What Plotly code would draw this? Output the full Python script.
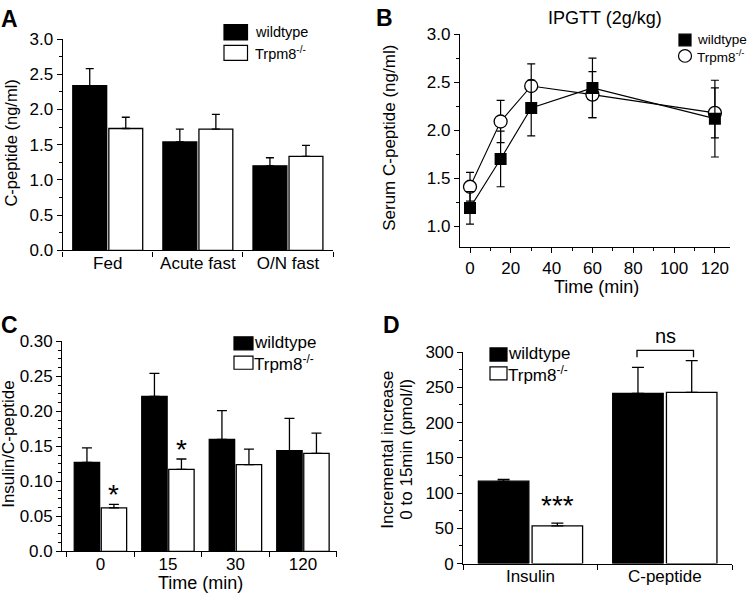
import plotly.graph_objects as go

FONT = "Liberation Sans, Arial, sans-serif"
W, H = 750, 602

# ---------------- data ----------------
# Panel A
a_cats = ["Fed", "Acute fast", "O/N fast"]
a_wt = [2.34, 1.54, 1.20]
a_wt_err = [0.24, 0.18, 0.115]
a_ko = [1.73, 1.72, 1.335]
a_ko_err = [0.16, 0.21, 0.155]
a_yticks = [0.0, 0.5, 1.0, 1.5, 2.0, 2.5, 3.0]

# Panel B
b_time = [0, 15, 30, 60, 120]
b_wt = [1.19, 1.70, 2.23, 2.44, 2.12]
b_wt_err = [0.17, 0.29, 0.29, 0.31, 0.40]
b_ko = [1.41, 2.09, 2.46, 2.37, 2.18]
b_ko_err = [0.15, 0.22, 0.23, 0.24, 0.26]
b_yticks = [1.0, 1.5, 2.0, 2.5, 3.0]
b_xticks = [0, 20, 40, 60, 80, 100, 120]

# Panel C
c_cats = ["0", "15", "30", "120"]
c_wt = [0.127, 0.2215, 0.160, 0.144]
c_wt_err = [0.021, 0.033, 0.041, 0.046]
c_ko = [0.062, 0.117, 0.124, 0.140]
c_ko_err = [0.005, 0.015, 0.022, 0.029]
c_yticks = [0.0, 0.05, 0.10, 0.15, 0.20, 0.25, 0.30]
c_yticktext = ["0.0", "0.05", "0.10", "0.15", "0.20", "0.25", "0.30"]
c_stars = ["*", "*", "", ""]

# Panel D
d_cats = ["Insulin", "C-peptide"]
d_wt = [117, 241.5]
d_wt_err = [2.5, 37]
d_ko = [53.5, 243]
d_ko_err = [4, 45]
d_yticks = [0, 50, 100, 150, 200, 250, 300]

KO_LABEL = "Trpm8<sup>-/-</sup>"


def xd(a, b):
    return [a / W, b / W]


def yd(top, bottom):
    return [1 - bottom / H, 1 - top / H]


fig = go.Figure()

LW = 1.3


def bars(x, y, err, fill, xa, ya, ew):
    fig.add_trace(go.Bar(
        x=x, y=y, xaxis=xa, yaxis=ya,
        marker=dict(color=fill, line=dict(color="black", width=LW)),
        error_y=dict(type="data", array=err, arrayminus=[0] * len(err), symmetric=False,
                     color="black", thickness=LW, width=ew),
        showlegend=False, hoverinfo="skip"))


# A
bars(a_cats, a_wt, a_wt_err, "black", "x", "y", 4)
bars(a_cats, a_ko, a_ko_err, "white", "x", "y", 4)
# C
bars(c_cats, c_wt, c_wt_err, "black", "x3", "y3", 5)
bars(c_cats, c_ko, c_ko_err, "white", "x3", "y3", 5)
# D
bars(d_cats, d_wt, d_wt_err, "black", "x4", "y4", 6)
bars(d_cats, d_ko, d_ko_err, "white", "x4", "y4", 6)

# B
fig.add_trace(go.Scatter(
    x=b_time, y=b_ko, xaxis="x2", yaxis="y2", mode="lines+markers",
    line=dict(color="black", width=1.1),
    marker=dict(symbol="circle", size=13, color="white", line=dict(color="black", width=1.3)),
    error_y=dict(type="data", array=b_ko_err, color="black", thickness=1.2, width=4),
    showlegend=False, hoverinfo="skip"))
fig.add_trace(go.Scatter(
    x=b_time, y=b_wt, xaxis="x2", yaxis="y2", mode="lines+markers",
    line=dict(color="black", width=1.1),
    marker=dict(symbol="square", size=12, color="black", line=dict(color="black", width=0)),
    error_y=dict(type="data", array=b_wt_err, color="black", thickness=1.2, width=4),
    showlegend=False, hoverinfo="skip"))

tickfont = dict(family=FONT, size=17, color="black")
axcommon = dict(showline=True, linecolor="black", linewidth=LW, ticks="outside",
                ticklen=5, tickwidth=LW, tickcolor="black", showgrid=False,
                zeroline=False, tickfont=tickfont)
minor_kw = dict(ticks="outside", ticklen=3, tickcolor="black", tickwidth=1)

fig.update_layout(
    width=W, height=H, margin=dict(l=0, r=0, t=0, b=0),
    paper_bgcolor="white", plot_bgcolor="white",
    barmode="group", bargap=0.2, bargroupgap=0.06,
    xaxis=dict(domain=xd(62.7, 333), anchor="y", type="category", range=[-0.5, 2.5],
               tickson="boundaries", ticklabelstandoff=-3, **axcommon),
    yaxis=dict(domain=yd(31, 249.3), anchor="x", range=[0, 3.0], tickvals=a_yticks,
               tickformat=".1f", minor=dict(dtick=0.25, **minor_kw), **axcommon),
    xaxis2=dict(domain=xd(460, 730), anchor="y2", range=[-4.9, 127.4], tickvals=b_xticks,
                minor=dict(dtick=10, **minor_kw), **axcommon),
    yaxis2=dict(domain=yd(26, 246), anchor="x2", range=[0.78, 3.0], tickvals=b_yticks,
                tickformat=".1f", minor=dict(dtick=0.25, tick0=0, **minor_kw), **axcommon),
    xaxis3=dict(domain=xd(62.3, 336.7), anchor="y3", type="category", range=[-0.565, 3.5],
                tickson="boundaries", ticklabelstandoff=-3, **axcommon),
    yaxis3=dict(domain=yd(343.3, 560), anchor="x3", range=[0, 0.30], tickvals=c_yticks,
                ticktext=c_yticktext, minor=dict(dtick=0.0125, **minor_kw), **axcommon),
    xaxis4=dict(domain=xd(463.3, 732), anchor="y4", type="category", range=[-0.5, 1.5],
                tickson="boundaries", ticklabelstandoff=-3, **axcommon),
    yaxis4=dict(domain=yd(354.3, 572.7), anchor="x4", range=[0, 300], tickvals=d_yticks,
                minor=dict(dtick=25, **minor_kw), **axcommon),
)

ann = []


def text(x, y, s, size=16, bold=False, angle=0, xanchor="center", yanchor="middle", **kw):
    if bold:
        s = "<b>" + s + "</b>"
    ann.append(dict(x=x / W, y=1 - y / H, xref="paper", yref="paper", text=s,
                    showarrow=False, textangle=angle, xanchor=xanchor, yanchor=yanchor,
                    font=dict(family=FONT, size=size, color="black"), **kw))


# panel letters
text(9, 10, "A", 23, True)
text(384, 9, "B", 23, True)
text(9, 326, "C", 23, True)
text(392, 326, "D", 23, True)

# axis titles
text(11, 139, "C-peptide (ng/ml)", 16.5, angle=-90)
text(390, 133, "Serum C-peptide (ng/ml)", 17, angle=-90)
text(596, 287, "Time (min)", 18)
text(605, 9, "IPGTT (2g/kg)", 18)
text(9, 449, "Insulin/C-peptide", 17, angle=-90)
text(200, 593, "Time (min)", 18)
text(388, 455, "Incremental increase", 17, angle=-90)
text(407, 455, "0 to 15min (pmol/l)", 17, angle=-90)

shapes = []


def rect(x0, y0, x1, y1, fill):
    shapes.append(dict(type="rect", xref="paper", yref="paper", x0=x0 / W, x1=x1 / W,
                       y0=1 - y1 / H, y1=1 - y0 / H, fillcolor=fill,
                       line=dict(color="black", width=1.2)))


# legend A
rect(224, 16, 247.5, 32, "black")
rect(224, 37.5, 247.5, 53, "white")
text(253, 24, "wildtype", 14.5, xanchor="left")
text(253, 45, KO_LABEL, 14.5, xanchor="left")

# legend B
rect(679, 26, 691, 38, "black")
shapes.append(dict(type="circle", xref="paper", yref="paper", x0=678.5 / W, x1=691.5 / W,
                   y0=1 - 55 / H, y1=1 - 42 / H, fillcolor="white",
                   line=dict(color="black", width=1.2)))
text(695, 32, "wildtype", 13.5, xanchor="left")
text(695, 48.5, KO_LABEL, 13.5, xanchor="left")

# legend C
rect(234, 338.5, 253, 352, "black")
rect(234, 358.5, 253, 372, "white")
text(252, 344.5, "wildtype", 17, xanchor="left")
text(252, 365.5, KO_LABEL, 17, xanchor="left")

# legend D
rect(490, 350, 507, 363.5, "black")
rect(490, 369.5, 507, 383, "white")
text(506, 356, "wildtype", 17, xanchor="left")
text(506, 377, KO_LABEL, 17, xanchor="left")

# significance marks
for i, s in enumerate(c_stars):
    if s:
        ann.append(dict(x=i + 0.2, y=c_ko[i] + c_ko_err[i], xref="x3", yref="y3", text=s,
                        showarrow=False, yanchor="bottom", yshift=-8,
                        font=dict(family=FONT, size=28, color="black")))
ann.append(dict(x=0.2, y=d_ko[0] + d_ko_err[0], xref="x4", yref="y4", text="***",
                showarrow=False, yanchor="bottom", yshift=0,
                font=dict(family=FONT, size=28, color="black")))

# ns bracket
shapes.append(dict(type="path", xref="paper", yref="paper",
                   path="M {a},{b} L {a},{c} L {d},{c} L {d},{b}".format(
                       a=637 / W, b=1 - 359.5 / H, c=1 - 352.5 / H, d=693.5 / W),
                   line=dict(color="black", width=1.3)))
text(665, 338, "ns", 20)

fig.update_layout(annotations=ann, shapes=shapes)

POST = (
    "var de=document.documentElement, b=document.body;"
    "de.style.margin='0';de.style.padding='0';de.style.overflow='hidden';"
    "b.style.margin='0';b.style.padding='0';b.style.overflow='hidden';"
)
fig.write_html("out.html", config={"displayModeBar": False}, post_script=POST)
